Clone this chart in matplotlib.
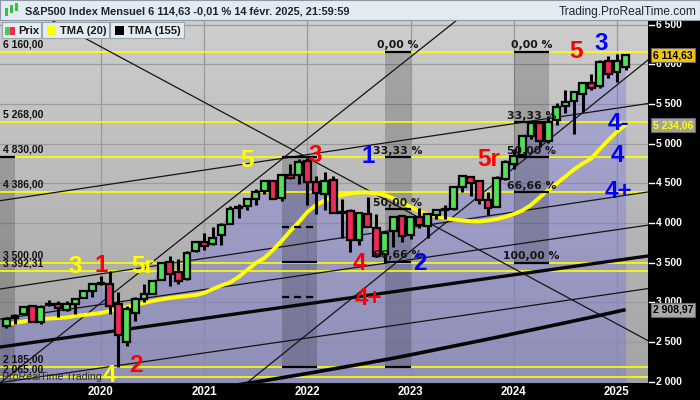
import numpy as np
import matplotlib
matplotlib.use("Agg")
import matplotlib.pyplot as plt
from matplotlib.patches import Rectangle
from matplotlib.colors import LinearSegmentedColormap
from matplotlib.transforms import blended_transform_factory

plt.rcParams['font.family'] = ['Liberation Sans', 'DejaVu Sans']

W, H = 700, 400

# ---------------- data ----------------
# months since Jan 2020 (Feb 2019 .. Feb 2025)
months = list(range(-11, 62))
opens = [2702, 2798, 2849, 2952, 2752, 2971, 2980, 2909, 2984, 3051, 3144,
         3245, 3236, 2974, 2498, 2869, 3039, 3106, 3288, 3507, 3386, 3296, 3646,
         3765, 3731, 3843, 3993, 4192, 4217, 4301, 4407, 4529, 4317, 4611, 4603,
         4778, 4520, 4363, 4540, 4131, 4150, 3781, 4112, 3937, 3610, 3902, 4087,
         3853, 4070, 3963, 4100, 4167, 4181, 4451, 4579, 4531, 4285, 4201, 4559,
         4745, 4861, 5099, 5258, 5029, 5297, 5471, 5538, 5624, 5758, 5723, 6040,
         5903, 5970]
highs = [2814, 2860, 2950, 2954, 2964, 3028, 3014, 3022, 3050, 3154, 3248,
         3338, 3394, 3137, 2955, 3069, 3233, 3280, 3515, 3588, 3550, 3646, 3760,
         3871, 3950, 3994, 4219, 4238, 4302, 4430, 4537, 4546, 4608, 4744, 4809,
         4819, 4595, 4637, 4594, 4308, 4178, 4140, 4325, 4119, 3905, 4080, 4101,
         4094, 4195, 4111, 4170, 4231, 4459, 4607, 4585, 4541, 4394, 4588, 4793,
         4931, 5111, 5265, 5264, 5342, 5506, 5670, 5652, 5767, 5879, 6054, 6100,
         6128, 6128]
lows = [2682, 2722, 2849, 2750, 2729, 2952, 2822, 2892, 2856, 3051, 3070,
        3215, 2856, 2192, 2448, 2767, 3000, 3101, 3285, 3210, 3234, 3280, 3633,
        3663, 3726, 3723, 3993, 4057, 4164, 4233, 4368, 4306, 4279, 4560, 4495,
        4223, 4115, 4158, 4124, 3810, 3637, 3722, 3955, 3584, 3492, 3698, 3765,
        3794, 3943, 3809, 4048, 4048, 4166, 4385, 4335, 4239, 4104, 4198, 4547,
        4682, 4854, 5057, 4954, 5011, 5234, 5391, 5119, 5403, 5674, 5697, 5832,
        5773, 5924]
closes = [2785, 2834, 2946, 2752, 2942, 2980, 2927, 2977, 3038, 3141, 3231,
          3226, 2954, 2585, 2912, 3044, 3100, 3271, 3500, 3363, 3270, 3622, 3756,
          3714, 3811, 3973, 4181, 4204, 4298, 4395, 4523, 4308, 4605, 4567, 4766,
          4516, 4374, 4530, 4132, 4132, 3785, 4130, 3955, 3586, 3872, 4080, 3840,
          4077, 3970, 4109, 4170, 4180, 4450, 4589, 4508, 4288, 4194, 4568, 4770,
          4846, 5096, 5254, 5036, 5278, 5460, 5522, 5648, 5762, 5705, 6032, 5882,
          6041, 6114.63]

tma20 = [2728, 2741, 2760, 2779, 2791, 2797, 2804, 2810, 2829, 2841, 2854,
         2867, 2892, 2917, 2942, 2967, 2993, 3018, 3037, 3056, 3068, 3081, 3093,
         3119, 3169, 3213, 3251, 3320, 3408, 3496, 3559, 3660, 3773, 3899, 4012,
         4138, 4227, 4283, 4331, 4353, 4374, 4384, 4387, 4372, 4353, 4309, 4258,
         4202, 4151, 4107, 4088, 4059, 4044, 4032, 4022, 4019, 4032, 4050, 4076,
         4113, 4158, 4227, 4321, 4416, 4498, 4586, 4674, 4749, 4812, 4932, 5045,
         5152, 5234.06]

tma155_months = list(range(14, 62))
tma155 = [1930, 1947, 1964, 1981, 1998, 2015, 2033, 2051, 2069, 2087, 2105,
          2124, 2143, 2162, 2181, 2200, 2219, 2238, 2258, 2278, 2298, 2319,
          2340, 2362, 2384, 2406, 2428, 2450, 2472, 2494, 2516, 2538, 2560,
          2583, 2606, 2629, 2652, 2675, 2698, 2721, 2744, 2767, 2790, 2813,
          2837, 2861, 2885, 2908.97]

year_ticks = [0, 12, 24, 36, 48, 60]
year_labels = ['2020', '2021', '2022', '2023', '2024', '2025']
price_ticks = [2000, 2500, 3000, 3500, 4000, 4500, 5000, 5500, 6000, 6500]
price_labels = ['2 000', '2 500', '3 000', '3 500', '4 000', '4 500',
                '5 000', '5 500', '6 000', '6 500']

fib_levels = [6160, 5268, 4830, 4386, 3500, 3392.31, 2185, 2065]
fib_labels = ['6 160,00', '5 268,00', '4 830,00', '4 386,00',
              '3 500,00', '3 392,31', '2 185,00', '2 065,00']

# trend lines: (month, value) endpoints
thin_lines = [((-7.1, 6632), (63.84, 2505)),
              ((-11.74, 1985), (41.4, 6557)),
              ((17.09, 1998), (63.6, 6053)),
              ((-11.74, 4281), (63.6, 5505)),
              ((-11.74, 3169), (63.6, 4391)),
              ((-11.74, 2789), (63.6, 3973)),
              ((-11.74, 1990), (63.6, 3174))]
thick_lines = [((-11.74, 2438), (63.6, 3585))]

# fibonacci retracement boxes (start month, end month, top, bottom)
box_starts = [-11.74, 21.05, 33.0, 48.0]
box_ends = [-10.0, 25.1, 36.05, 52.1]
box_tops = [4830, 4830, 6160, 6160]
box_bottoms = [1985, 2185, 2185, 3500]
box1_levels = [4830]
box2_levels = [4830, 3948, 3507, 3067, 2185]
box2_dashed = [False, True, False, True, False]
box3_levels = [6160, 4830, 4172.5, 3510, 2185]
box3_labels = ['0,00', '33,33', '50,00', '66,66', None]
box4_levels = [6160, 5268, 4830, 4386, 3500]
box4_labels = ['0,00', '33,33', '50,00', '66,66', '100,00']

wave_texts = ['3', '1', '5r', '2', '4', '5', '3', '1', '4', '4+', '2', '5r',
              '5', '3', '4-', '4', '4+']
wave_colors = ['#ffff00', '#ff0000', '#ffff00', '#ff0000', '#ffff00', '#ffff00',
               '#ff0000', '#0000ff', '#ff0000', '#ff0000', '#0000ff', '#ff0000',
               '#ff0000', '#0000ff', '#0000ff', '#0000ff', '#0000ff']
# pixel anchor (x center, baseline y)
wave_pos = [(75, 273), (101, 272), (143, 273), (136, 372), (109, 382),
            (247, 167), (315, 162), (368, 163), (359, 270), (368, 305),
            (420, 270), (489, 166), (576, 58), (601, 50), (618, 130),
            (617, 162), (618, 198)]

# ---------------- figure ----------------
fig = plt.figure(figsize=(W / 100, H / 100), dpi=100, facecolor='black')
ax = fig.add_axes([0, 17 / H, 648 / W, 363 / H])
XL = (-101 / 8.6, (648 - 101) / 8.6)
YL = (1985, 6557)
ax.axis('off')

grad = np.linspace(0, 1, 256).reshape(-1, 1)
cmap = LinearSegmentedColormap.from_list('bg', ['#cecece', '#a3a3a3'])
ax.imshow(grad, cmap=cmap, extent=[XL[0], XL[1], YL[0], YL[1]],
          aspect='auto', origin='upper', zorder=0)

for t in year_ticks:
    ax.axvline(t, color='#999999', lw=0.9, zorder=1)
for p in price_ticks:
    ax.axhline(p, color='#9c9c9c', lw=0.9, zorder=1)

m = np.array(months, dtype=float)
c = np.array(closes, dtype=float)
ax.fill_between(np.r_[XL[0], m], np.r_[c[0], c], YL[0],
                color=(0.40, 0.40, 0.90), alpha=0.32, lw=0, zorder=2)

for t0, t1, tp, bt in zip(box_starts, box_ends, box_tops, box_bottoms):
    ax.add_patch(Rectangle((t0, bt), t1 - t0, tp - bt, facecolor='black',
                           alpha=0.18, lw=0, zorder=2.5))

for lv in fib_levels:
    ax.axhline(lv, color='#ffff00', lw=1.2, zorder=3)

for (a, b) in thin_lines:
    ax.plot([a[0], b[0]], [a[1], b[1]], color='#141414', lw=0.9, zorder=4)
for (a, b) in thick_lines:
    ax.plot([a[0], b[0]], [a[1], b[1]], color='#080808', lw=2.4, zorder=4)
ax.plot(tma155_months, tma155, color='#050505', lw=2.6, zorder=4,
        solid_capstyle='butt')
ax.plot(months, tma20, color='#ffff00', lw=2.8, zorder=5)

# fib box level segments
def seg(i, lv, dashed=False):
    kw = dict(color='black', lw=1.6, zorder=5.5, solid_capstyle='butt')
    if dashed:
        kw['dashes'] = (3.2, 2.2)
    ax.plot([box_starts[i], box_ends[i]], [lv, lv], **kw)

for lv in box1_levels:
    seg(0, lv)
for lv, d in zip(box2_levels, box2_dashed):
    seg(1, lv, d)
for idx, levels, labels in ((2, box3_levels, box3_labels), (3, box4_levels, box4_labels)):
    xc = (box_starts[idx] + box_ends[idx]) / 2
    for lv, lb in zip(levels, labels):
        seg(idx, lv)
        if lb:
            ax.annotate(lb + ' %', (xc, lv), xytext=(0, 2.5), textcoords='offset points',
                        ha='center', va='baseline', fontsize=7.8, fontweight='bold',
                        family='DejaVu Sans', color='#161616', zorder=8)

# candles
bw = 0.80
for t, o, h, l, cl in zip(months, opens, highs, lows, closes):
    ax.plot([t, t], [l, h], color='black', lw=2.2, zorder=6, solid_capstyle='butt')
    bot = min(o, cl)
    ht = max(abs(cl - o), 14)
    col = '#52e05a' if cl >= o else '#f02a58'
    ax.add_patch(Rectangle((t - bw / 2, bot), bw, ht, facecolor=col,
                           edgecolor='black', lw=1.6, zorder=7))

ax.set_xlim(*XL)
ax.set_ylim(*YL)

# left level labels
ybl = blended_transform_factory(ax.transAxes, ax.transData)
for lv, lb in zip(fib_levels, fib_labels):
    ax.annotate(lb, (3 / 648, lv), xycoords=ybl, xytext=(0, 3.2),
                textcoords='offset points', ha='left', va='baseline',
                fontsize=7.5, fontweight='bold', color='#111111', zorder=8)

ax.text(2 / 648, 2065, 'ProRealTime Trading', transform=ybl, ha='left',
        va='center', fontsize=7.6, color='#2a2a2a', zorder=8)

# right axis
rb = blended_transform_factory(fig.transFigure, ax.transData)
for p, lb in zip(price_ticks, price_labels):
    ax.plot([649 / W, 654 / W], [p, p], transform=rb, color='white', lw=1,
            clip_on=False, zorder=9)
    ax.text(656 / W, p, lb, transform=rb, ha='left', va='center', fontsize=7.5,
            fontweight='bold', color='white', clip_on=False, zorder=9)

def pricebox(v, txt, fc, tc):
    ax.text(653 / W, v, txt, transform=rb, ha='left', va='center', fontsize=7.5,
            fontweight='bold', color=tc, clip_on=False, zorder=10,
            bbox=dict(boxstyle='square,pad=0.18', fc=fc, ec='#6a6a6a', lw=0.8))

pricebox(closes[-1], '6 114,63', '#f2c50c', 'black')
pricebox(tma20[-1], '5 234,06', '#a2a2a2', '#ffff00')
pricebox(tma155[-1], '2 908,97', '#a8a8a8', 'black')

# year labels
xb = blended_transform_factory(ax.transData, ax.transAxes)
for t, lb in zip(year_ticks, year_labels):
    ax.text(t, -9 / 363, lb, transform=xb, ha='center', va='center', fontsize=8.3,
            fontweight='bold', color='white', clip_on=False)

# wave labels
for s, col, (px, py) in zip(wave_texts, wave_colors, wave_pos):
    fig.text(px / W, 1 - py / H, s, ha='center', va='baseline', fontsize=17.5,
             fontweight='bold', color=col, zorder=20)

# title bar
def frect(x0, y0, x1, y1, fc, ec='none', lw=0, z=30):
    fig.add_artist(Rectangle((x0 / W, 1 - y1 / H), (x1 - x0) / W, (y1 - y0) / H,
                             transform=fig.transFigure, facecolor=fc,
                             edgecolor=ec, lw=lw, zorder=z))

frect(0, 0, 700, 20, '#e2ebf2', '#8d9aa5', 0.8)
# title icon (small candles)
frect(5, 8, 8, 16, '#3dbf3d', z=31)
frect(10, 5, 13, 13, '#3dbf3d', z=31)
frect(15, 3, 18, 11, '#3dbf3d', z=31)
fig.text(25 / W, 1 - 15 / H, 'S&P500 Index Mensuel 6 114,63 -0,01 % 14 févr. 2025, 21:59:59',
         fontsize=7.9, fontweight='bold', color='#1b2530', va='baseline', zorder=32)
fig.text(697 / W, 1 - 15 / H, 'Trading.ProRealTime.com', fontsize=8.6,
         color='#1b2530', ha='right', va='baseline', zorder=32)

# legend boxes
frect(2, 22, 41, 38, '#e4ecf2', '#99a5b0', 0.8)
frect(42, 22, 109, 38, '#e4ecf2', '#99a5b0', 0.8)
frect(110, 22, 184, 38, '#e4ecf2', '#99a5b0', 0.8)
frect(5, 27, 10, 35, '#44d044', z=31)
frect(10, 27, 15, 35, '#ee2a55', z=31)
frect(47, 26, 56, 35, '#ffff00', z=31)
frect(115, 26, 124, 35, '#000000', z=31)
for x, s in ((18, 'Prix'), (60, 'TMA (20)'), (128, 'TMA (155)')):
    fig.text(x / W, 1 - 34.5 / H, s, fontsize=8, fontweight='bold',
             color='#161616', va='baseline', zorder=32)

fig.savefig('out.png', dpi=100, facecolor='black')
